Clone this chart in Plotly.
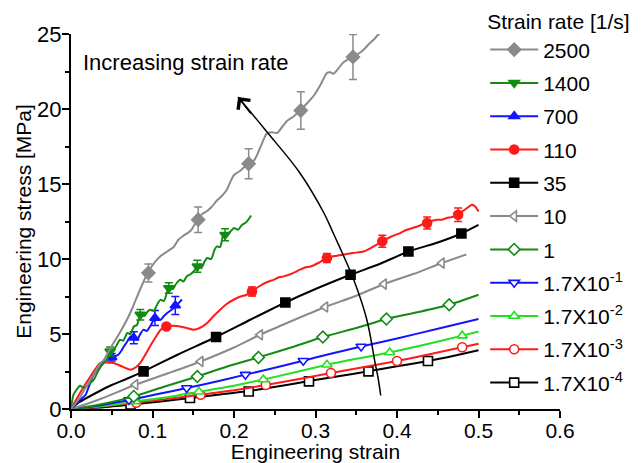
import plotly.graph_objects as go

# ---------------- data ----------------
labels = ["2500", "1400", "700", "110", "35", "10", "1",
          "1.7X10<sup>-1</sup>", "1.7X10<sup>-2</sup>", "1.7X10<sup>-3</sup>", "1.7X10<sup>-4</sup>"]

s2500_x = [0, 0.01, 0.02, 0.03, 0.037, 0.04, 0.05, 0.06, 0.07, 0.077, 0.085, 0.094, 0.103, 0.11, 0.118, 0.126,
           0.132, 0.138, 0.147, 0.155, 0.161, 0.167, 0.173, 0.179, 0.185, 0.191, 0.196, 0.2, 0.208, 0.218, 0.225,
           0.232, 0.24, 0.246, 0.253, 0.259, 0.265, 0.273, 0.281, 0.29, 0.298, 0.306, 0.314, 0.318, 0.322, 0.328,
           0.334, 0.346, 0.353, 0.359, 0.365, 0.371, 0.376, 0.38, 0.388, 0.398]
s2500_y = [0, 0.7, 1.6, 2.5, 3.1, 3.25, 4.2, 5.1, 6.1, 6.95, 8.0, 9.05, 9.8, 10.2, 10.5, 10.8,
           11.3, 11.55, 11.9, 12.6, 13.0, 13.2, 13.5, 13.9, 14.2, 14.6, 15.2, 15.6, 15.9, 16.4, 16.6,
           17.4, 18.35, 18.45, 18.4, 18.8, 19.2, 19.5, 19.9, 20.4, 20.9, 21.6, 22.4, 22.45, 22.35, 22.7,
           23.1, 23.5, 23.7, 23.95, 24.3, 24.6, 24.9, 25.1, 25.1, 25.1]
m2500_x = [0.095, 0.156, 0.218, 0.282, 0.346]
m2500_y = [9.07, 12.62, 16.35, 19.9, 23.47]
m2500_e = [0.6, 0.85, 1.0, 1.25, 1.5]

s1400_x = [0, 0.003, 0.007, 0.011, 0.016, 0.02, 0.024, 0.028, 0.034, 0.04, 0.044, 0.048, 0.053, 0.057, 0.06,
           0.064, 0.069, 0.073, 0.077, 0.081, 0.085, 0.09, 0.094, 0.097, 0.102, 0.106, 0.11, 0.114, 0.12, 0.125,
           0.129, 0.134, 0.138, 0.142, 0.147, 0.151, 0.155, 0.16, 0.164, 0.167, 0.172, 0.176, 0.179, 0.183,
           0.187, 0.19, 0.195, 0.2, 0.205, 0.21, 0.215, 0.221]
s1400_y = [0, 0.95, 1.3, 1.55, 1.4, 1.55, 1.75, 1.95, 2.6, 3.07, 3.3, 3.84, 4.0, 4.35, 4.62,
           4.55, 5.07, 5.0, 5.5, 5.6, 6.29, 6.2, 6.5, 6.62, 6.55, 7.0, 7.29, 7.2, 8.07, 8.0,
           8.35, 8.62, 8.5, 8.84, 9.0, 9.2, 9.51, 9.4, 9.85, 10.07, 10.0, 10.6, 10.84, 10.8,
           11.62, 11.55, 11.8, 12.07, 11.95, 12.29, 12.45, 12.9]
m1400_x = [0.048, 0.085, 0.12, 0.155, 0.189]
m1400_y = [3.84, 6.29, 8.07, 9.51, 11.62]
m1400_e = [0.3, 0.35, 0.35, 0.4, 0.4]

s700_x = [0, 0.005, 0.01, 0.015, 0.018, 0.022, 0.027, 0.032, 0.036, 0.042, 0.048, 0.053, 0.058, 0.062, 0.065,
          0.069, 0.073, 0.077, 0.081, 0.085, 0.089, 0.093, 0.097, 0.1, 0.103, 0.107, 0.11, 0.114, 0.118, 0.123,
          0.128, 0.131, 0.134, 0.136]
s700_y = [0, 0.3, 0.55, 0.8, 0.95, 1.5, 2.2, 2.6, 2.84, 3.2, 3.4, 3.5, 3.62, 3.9, 4.18,
          4.5, 4.84, 4.7, 4.62, 5.0, 5.29, 5.2, 5.5, 5.8, 6.07, 6.0, 5.95, 6.2, 6.4, 6.6,
          6.84, 7.0, 7.17, 7.3]
m700_x = [0.05, 0.077, 0.103, 0.128]
m700_y = [3.45, 4.75, 6.07, 6.9]
m700_e = [0.25, 0.4, 0.5, 0.6]

s110_x = [0, 0.011, 0.024, 0.036, 0.044, 0.052, 0.062, 0.073, 0.08, 0.085, 0.091, 0.097, 0.104, 0.11, 0.117,
          0.125, 0.134, 0.142, 0.15, 0.158, 0.167, 0.175, 0.183, 0.191, 0.2, 0.208, 0.215, 0.222, 0.23, 0.24,
          0.249, 0.255, 0.261, 0.27, 0.281, 0.288, 0.294, 0.304, 0.314, 0.324, 0.334, 0.346, 0.359, 0.37,
          0.382, 0.393, 0.404, 0.412, 0.418, 0.425, 0.431, 0.437, 0.443, 0.449, 0.455, 0.461, 0.468, 0.475,
          0.481, 0.486, 0.492, 0.496, 0.5]
s110_y = [0, 1.07, 2.18, 3.07, 3.1, 3.07, 2.85, 2.62, 2.8, 3.07, 3.6, 4.18, 4.8, 5.29, 5.5,
          5.55, 5.5, 5.4, 5.29, 5.4, 5.73, 6.2, 6.62, 7.0, 7.3, 7.5, 7.6, 7.84, 8.15, 8.45,
          8.62, 8.78, 8.84, 9.0, 9.29, 9.45, 9.5, 9.75, 10.07, 10.2, 10.29, 10.4, 10.5, 10.8,
          11.18, 11.5, 11.73, 11.95, 12.05, 12.17, 12.3, 12.4, 12.55, 12.62, 12.62, 12.73, 12.8, 12.95,
          13.2, 13.4, 13.62, 13.5, 13.17]
m110_x = [0.117, 0.222, 0.314, 0.382, 0.437, 0.475]
m110_y = [5.5, 7.84, 10.07, 11.18, 12.4, 12.95]
m110_e = [0.15, 0.3, 0.3, 0.4, 0.4, 0.45]

s35_x = [0, 0.01, 0.03, 0.05, 0.07, 0.089, 0.13, 0.178, 0.22, 0.263, 0.3, 0.343, 0.38, 0.414, 0.45, 0.479, 0.5]
s35_y = [0, 0.45, 1.05, 1.6, 2.05, 2.51, 3.6, 4.8, 5.95, 7.1, 8.0, 8.95, 9.7, 10.5, 11.1, 11.7, 12.27]
m35_x = [0.089, 0.178, 0.263, 0.343, 0.414, 0.479]
m35_y = [2.51, 4.8, 7.1, 8.95, 10.5, 11.7]

s10_x = [0, 0.02, 0.04, 0.079, 0.12, 0.159, 0.2, 0.232, 0.27, 0.312, 0.35, 0.384, 0.42, 0.455, 0.485]
s10_y = [0, 0.35, 0.75, 1.62, 2.4, 3.17, 4.1, 4.95, 5.85, 6.8, 7.55, 8.33, 9.0, 9.73, 10.3]
m10_x = [0.079, 0.159, 0.232, 0.312, 0.384, 0.455]
m10_y = [1.62, 3.17, 4.95, 6.8, 8.33, 9.73]

s1_x = [0, 0.02, 0.04, 0.077, 0.115, 0.155, 0.19, 0.23, 0.27, 0.309, 0.35, 0.387, 0.425, 0.464, 0.5]
s1_y = [0, 0.15, 0.35, 0.84, 1.5, 2.17, 2.8, 3.44, 4.1, 4.8, 5.4, 6.0, 6.45, 6.95, 7.62]
m1_x = [0.077, 0.155, 0.23, 0.309, 0.387, 0.464]
m1_y = [0.84, 2.17, 3.44, 4.8, 6.0, 6.95]

s17a_x = [0, 0.02, 0.04, 0.071, 0.105, 0.142, 0.18, 0.214, 0.25, 0.285, 0.32, 0.356, 0.4, 0.45, 0.5]
s17a_y = [0, 0.12, 0.28, 0.6, 0.98, 1.4, 1.85, 2.29, 2.75, 3.22, 3.7, 4.17, 4.7, 5.35, 6.0]
m17a_x = [0.071, 0.142, 0.214, 0.285, 0.356]
m17a_y = [0.6, 1.4, 2.29, 3.22, 4.17]

s17b_x = [0, 0.04, 0.079, 0.12, 0.157, 0.2, 0.236, 0.275, 0.314, 0.35, 0.391, 0.435, 0.48, 0.5]
s17b_y = [0, 0.2, 0.5, 0.8, 1.15, 1.55, 1.97, 2.45, 2.95, 3.35, 3.77, 4.3, 4.89, 5.17]
m17b_x = [0.079, 0.157, 0.236, 0.314, 0.391, 0.48]
m17b_y = [0.5, 1.15, 1.97, 2.95, 3.77, 4.89]

s17c_x = [0, 0.04, 0.08, 0.12, 0.159, 0.2, 0.239, 0.28, 0.319, 0.36, 0.4, 0.44, 0.48, 0.5]
s17c_y = [0, 0.18, 0.42, 0.68, 0.95, 1.25, 1.6, 2.0, 2.4, 2.8, 3.2, 3.65, 4.12, 4.35]
m17c_x = [0.08, 0.159, 0.239, 0.319, 0.4, 0.48]
m17c_y = [0.42, 0.95, 1.6, 2.4, 3.2, 4.12]

s17d_x = [0, 0.04, 0.073, 0.11, 0.146, 0.18, 0.218, 0.255, 0.292, 0.33, 0.365, 0.4, 0.438, 0.47, 0.5]
s17d_y = [0, 0.12, 0.29, 0.5, 0.73, 0.95, 1.2, 1.52, 1.86, 2.2, 2.51, 2.85, 3.2, 3.55, 3.91]
m17d_x = [0.073, 0.146, 0.218, 0.292, 0.365, 0.438]
m17d_y = [0.29, 0.73, 1.17, 1.84, 2.51, 3.2]

arrow_x = [0.38, 0.377, 0.373, 0.363, 0.347, 0.322, 0.31, 0.28, 0.24, 0.205]
arrow_y = [0.9, 2.0, 3.1, 5.95, 8.6, 11.7, 13.1, 15.8, 18.5, 20.8]
arrow_tail = (0.222, 19.6)

# ---------------- styles ----------------
GRAY = "#8a8a8a"
DGREEN = "#138a13"
BLUE = "#1414ff"
RED = "#ff1a1a"
BLACK = "#000000"
LIME = "#22e022"

series = [
    (labels[0], s2500_x, s2500_y, m2500_x, m2500_y, m2500_e, GRAY, "diamond", True, 10),
    (labels[1], s1400_x, s1400_y, m1400_x, m1400_y, m1400_e, DGREEN, "triangle-down", True, 9),
    (labels[2], s700_x, s700_y, m700_x, m700_y, m700_e, BLUE, "triangle-up", True, 9),
    (labels[3], s110_x, s110_y, m110_x, m110_y, m110_e, RED, "circle", True, 9),
    (labels[4], s35_x, s35_y, m35_x, m35_y, None, BLACK, "square", True, 9),
    (labels[5], s10_x, s10_y, m10_x, m10_y, None, GRAY, "triangle-left", False, 9),
    (labels[6], s1_x, s1_y, m1_x, m1_y, None, DGREEN, "diamond", False, 9),
    (labels[7], s17a_x, s17a_y, m17a_x, m17a_y, None, BLUE, "triangle-down", False, 9),
    (labels[8], s17b_x, s17b_y, m17b_x, m17b_y, None, LIME, "triangle-up", False, 9),
    (labels[9], s17c_x, s17c_y, m17c_x, m17c_y, None, RED, "circle", False, 9),
    (labels[10], s17d_x, s17d_y, m17d_x, m17d_y, None, BLACK, "square", False, 9),
]

fig = go.Figure()

for name, sx, sy, mx, my, me, col, sym, filled, ms in reversed(series):
    fig.add_trace(go.Scatter(x=sx, y=sy, mode="lines", line=dict(color=col, width=2, shape="spline", smoothing=0.6),
                             showlegend=False, hoverinfo="skip"))
    mk = dict(symbol=sym, size=ms, color=col if filled else "white",
              line=dict(color=col, width=1.6))
    err = None
    if me is not None:
        err = dict(type="data", array=me, visible=True, color=col, thickness=1.5, width=4)
    fig.add_trace(go.Scatter(x=mx, y=my, mode="markers", marker=mk, error_y=err,
                             showlegend=False, hoverinfo="skip"))

for i, (name, sx, sy, mx, my, me, col, sym, filled, ms) in enumerate(series):
    mk = dict(symbol=sym, size=ms, color=col if filled else "white",
              line=dict(color=col, width=1.6))
    fig.add_trace(go.Scatter(x=[None], y=[None], mode="lines+markers", name=name,
                             line=dict(color=col, width=2), marker=mk, legendgroup=f"g{i}"))

# curved arrow
fig.add_trace(go.Scatter(x=arrow_x, y=arrow_y, mode="lines", line=dict(color="black", width=1.5, shape="spline"),
                         showlegend=False, hoverinfo="skip"))
fig.add_annotation(x=arrow_x[-1], y=arrow_y[-1], ax=arrow_tail[0], ay=arrow_tail[1],
                   xref="x", yref="y", axref="x", ayref="y", text="", showarrow=True,
                   arrowhead=4, arrowsize=2, arrowwidth=1.5, arrowcolor="black")
fig.add_annotation(x=0.012, y=23.1, xref="x", yref="y", text="Increasing strain rate", showarrow=False,
                   xanchor="left", yanchor="middle", font=dict(size=22, color="black"))

FONT = "Liberation Sans, Arial, sans-serif"
fig.update_layout(
    width=642, height=463,
    margin=dict(l=71, r=82, t=34, b=54, autoexpand=False),
    paper_bgcolor="white", plot_bgcolor="white",
    font=dict(family=FONT, size=21, color="black"),
    showlegend=True,
    legend=dict(x=0.847, y=1.085, xanchor="left", yanchor="top", maxheight=460,
                title=dict(text="Strain rate [1/s]", font=dict(size=21)),
                font=dict(size=21), tracegroupgap=3, bgcolor="rgba(0,0,0,0)",
                itemwidth=48),
    xaxis=dict(range=[0, 0.6], tickvals=[0, 0.1, 0.2, 0.3, 0.4, 0.5, 0.6], tickformat=".1f",
               showline=True, linecolor="black", linewidth=2, ticks="outside", ticklen=7, tickwidth=2,
               tickcolor="black", showgrid=False, zeroline=False, mirror=False, automargin=False,
               minor=dict(tickvals=[0.05, 0.15, 0.25, 0.35, 0.45, 0.55], ticks="outside", ticklen=4,
                          tickwidth=2, tickcolor="black", showgrid=False),
               title=dict(text="Engineering strain", standoff=0, font=dict(size=21)),
               tickfont=dict(size=21), ticklabelstandoff=-5),
    yaxis=dict(range=[0, 25], tickvals=[0, 5, 10, 15, 20, 25],
               showline=True, linecolor="black", linewidth=2, ticks="outside", ticklen=7, tickwidth=2,
               tickcolor="black", showgrid=False, zeroline=False, mirror=False, automargin=False,
               minor=dict(tickvals=[2.5, 7.5, 12.5, 17.5, 22.5], ticks="outside", ticklen=4,
                          tickwidth=2, tickcolor="black", showgrid=False),
               title=dict(text="Engineering stress [MPa]", standoff=0, font=dict(size=21)),
               tickfont=dict(size=22), ticklabelstandoff=-4),
)

fig.write_html("out.html", config={"displayModeBar": False},
               post_script="document.body.style.margin='0';")
